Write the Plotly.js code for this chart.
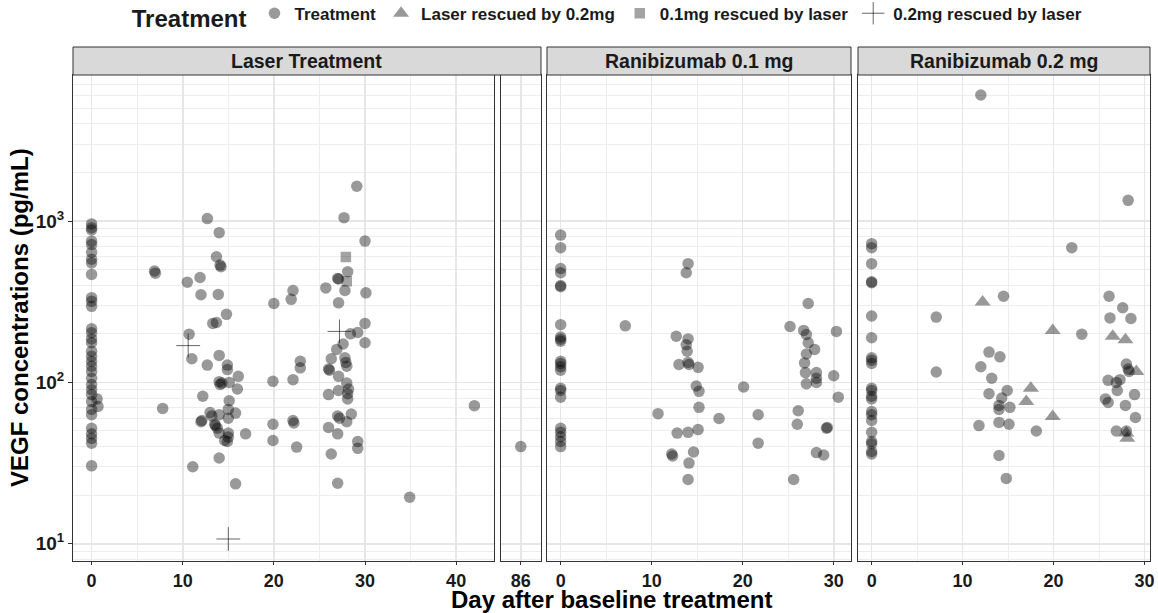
<!DOCTYPE html>
<html><head><meta charset="utf-8">
<script src="https://cdn.plot.ly/plotly-3.0.1.min.js"></script>
<style>html,body{margin:0;padding:0;background:#fff;}#chart{width:1158px;height:613px;}</style>
</head><body><div id="chart"></div>
<script>
// ---- Laser Treatment (circles) ----
const laserDay = [
 0,0,0,0,0,0,0,0,0,0,0,0,0,0,0,0,0,0,0,0,0,0,0,0,0,0,0,0,0,0,0,0,0,
 0.6,0.7, 6.9,7.0,7.8,
 10.5,10.7,11.0,11.1,11.9,12.0,12.2,12.0,12.1,12.7,12.7,13.0,13.2,13.3,13.7,13.6,13.8,13.7,13.9,
 14.0,14.1,14.2,14.0,14.0,14.3,14.1,14.0,14.0,14.0,14.8,14.9,14.9,15.1,15.1,15.0,15.0,15.0,15.0,
 14.6,14.9,15.8,16.0,16.1,16.9,15.8,13.5,
 20.0,19.9,19.9,19.9,21.9,22.1,22.1,22.1,22.2,22.5,22.9,22.9,
 25.7,26.3,26.0,26.1,26.0,26.0,26.3,26.9,27.0,27.1,27.1,27.1,27.1,27.0,27.2,27.0,27.0,
 27.7,27.8,27.6,27.8,27.9,28.0,28.0,28.2,28.1,28.1,28.0,28.1,28.4,28.5,
 29.1,29.2,29.2,29.2,30.0,30.0,30.0,30.1,34.9,42.0,
 86
];
const laserVEGF = [
 960,910,880,750,715,640,580,550,467,335,318,296,215,203,186,176,156,145,135,126,117,106,97,90,84,76,68,63,52,48,45,42,30.4,
 79,71, 490,475,69,
 418,199,140,30,447,349,82,57,58,1035,128,65,62,232,235,54,52,601,351,
 847,533,521,147,101,99,97,63,48.5,34,264,128,120,100,77,68,60,48.5,45.8,
 43.6,43,64.5,91,109,48,23.5,55,
 308,101.5,55,43.6,327,371,104,58,56,39.7,135,123,
 385,140,121,119,84,52.5,36,160,441,437,311,109,89,62,60,48,23.7,
 1049,371,173,142,133,126,99,91,85,79,57,485,200,63.6,
 1643,204,43,39,751,232,176,359,19.4,71.7,
 40
];
// Laser panel: squares (0.1mg rescued by laser) and crosses (0.2mg rescued by laser)
const squareDay = [27.9, 28.0];
const squareVEGF = [598, 424];
const crossDay = [10.6, 15.0, 27.2];
const crossVEGF = [169, 10.7, 207];

// ---- Ranibizumab 0.1 mg (circles) ----
const r01Day = [
 0,0,0,0,0,0,0,0,0,0,0,0,0,0,0,0,0,0,0,0,0,0,
 7.1,10.7,12.7,13.0,14.0,13.8,13.9,14.0,14.1,15.1,14.9,15.2,15.2,15.1,12.8,14.0,12.2,12.3,14.6,14.1,14.0,14.0,13.8,
 17.4,20.1,21.7,21.7,
 25.2,25.6,26.1,26.0,26.7,27.0,27.2,27.9,27.0,26.8,26.9,28.1,28.1,28.1,27.0,27.2,28.1,28.9,29.2,29.3,30.0,30.5,30.3
];
const r01VEGF = [
 818,684,508,478,398,392,228,191,185,180,135,131,125,119,92,89,81,52,49,46,43,40,
 224,64,193,129,186,171,156,133,129,124,95,88,70,51,48.5,49,36,35,37,31.6,25,544,478,
 59.7,93.6,63,42,
 222,25,66.7,55,210,198,176,160,150,132,115,115,106,100,98,308,36.7,35.5,52,52.5,110,81,207
];

// ---- Ranibizumab 0.2 mg (circles) ----
const r02Day = [
 0,0,0,0,0,0,0,0,0,0,0,0,0,0,0,0,0,0,0,0,0,0,
 7.1,7.1,11.8,12.0,12.0,12.9,14.1,13.2,12.9,14.3,14.0,14.0,14.9,15.2,14.0,15.1,14.0,14.8,14.5,
 18.1,22.0,23.1,
 26.1,27.6,26.2,28.5,28.2,28.0,28.2,28.3,26.0,26.9,27.3,27.0,28.9,25.7,26.0,27.9,29.0,26.9,28.0
];
const r02VEGF = [
 724,684,544,420,415,258,189,142,137,131,92,89,82,79,66,63,58,49,43,41.6,37.3,36,
 254,116,54,6040,125,154,144,106,85,80,72,68,89,70,56.5,55,35.2,25.4,342,
 50,684,199,
 342,290,251,249,1344,130,121,117,103,100,104,89,84,79,75,72,60.6,50,50
];
// Ranibizumab 0.2 mg: triangles (Laser rescued by 0.2mg)
const triDay = [12.2,17.5,17.0,19.9,19.9,26.5,27.9,29.1,28.0,28.1];
const triVEGF = [315,92,76,210,61.5,193,184,117,48.5,45];

const panelTitles = ['Laser Treatment', 'Ranibizumab 0.1 mg', 'Ranibizumab 0.2 mg'];
const yTickVals = [10, 100, 1000];
const yTickText = ['10<sup>1</sup>', '10<sup>2</sup>', '10<sup>3</sup>'];

const FONT = 'Liberation Sans, Arial, Helvetica, sans-serif';
const circ = {symbol:'circle', size:11.5, color:'#000', opacity:0.4, line:{width:0}};

const early = laserDay.map((d,i)=>[d,laserVEGF[i]]).filter(p=>p[0]<50);
const late = laserDay.map((d,i)=>[d,laserVEGF[i]]).filter(p=>p[0]>=50);

const traces = [
 {type:'scatter', mode:'markers', name:'Treatment', legendgroup:'a', x:early.map(p=>p[0]), y:early.map(p=>p[1]), xaxis:'x', yaxis:'y', marker:circ},
 {type:'scatter', mode:'markers', name:'Laser rescued by 0.2mg', legendgroup:'b', x:triDay, y:triVEGF, xaxis:'x4', yaxis:'y4',
  marker:{symbol:'triangle-up', size:14, color:'#000', opacity:0.4, line:{width:0}}},
 {type:'scatter', mode:'markers', name:'0.1mg rescued by laser', legendgroup:'c', x:squareDay, y:squareVEGF, xaxis:'x', yaxis:'y',
  marker:{symbol:'square', size:10.5, color:'#000', opacity:0.36, line:{width:0}}},
 {type:'scatter', mode:'markers', name:'0.2mg rescued by laser', legendgroup:'d', x:crossDay, y:crossVEGF, xaxis:'x', yaxis:'y',
  marker:{symbol:'cross-thin', size:17, color:'rgba(0,0,0,0.6)', line:{width:1, color:'rgba(0,0,0,0.6)'}}},
 {type:'scatter', mode:'markers', showlegend:false, x:late.map(p=>p[0]), y:late.map(p=>p[1]), xaxis:'x2', yaxis:'y2', marker:circ},
 {type:'scatter', mode:'markers', showlegend:false, x:r01Day, y:r01VEGF, xaxis:'x3', yaxis:'y3', marker:circ},
 {type:'scatter', mode:'markers', showlegend:false, x:r02Day, y:r02VEGF, xaxis:'x4', yaxis:'y4', marker:circ}
];

const minorY = [];
for (let n=0;n<4;n++) for (let k=2;k<10;k++) minorY.push(k*Math.pow(10,n));

const tickFont = {family:FONT, size:18, color:'#1a1a1a', weight:'bold'};
const GRID = '#e6e6e6', MGRID = '#ededed';
function yAx(anchor, first){
  const a = {type:'log', range:[0.893,3.905], anchor:anchor, tickmode:'array', tickvals:yTickVals, ticktext:yTickText,
    showgrid:true, gridcolor:GRID, gridwidth:1.6,
    minor:{tickmode:'array', tickvals:minorY, showgrid:true, gridcolor:MGRID, gridwidth:1, ticks:''},
    showline:true, linecolor:'#333', linewidth:1, mirror:true, zeroline:false,
    ticks: first?'outside':'', ticklen:4, tickcolor:'#333', showticklabels:first, tickfont:{family:FONT, size:19, color:'#1a1a1a', weight:'bold'}};
  if(!first) a.matches='y';
  return a;
}
function xAx(domain, range, anchor, opts){
  return Object.assign({domain:domain, range:range, anchor:anchor, tickmode:'linear', tick0:0, dtick:10,
    showgrid:true, gridcolor:GRID, gridwidth:1.6,
    minor:{tick0:0, dtick:5, showgrid:true, gridcolor:MGRID, gridwidth:1, ticks:''},
    showline:true, linecolor:'#333', linewidth:1, mirror:true, zeroline:false,
    ticks:'outside', ticklen:3, tickcolor:'#333', tickfont:tickFont}, opts||{});
}

const d1=[0,0.39044], d2=[0.39694,0.43454], d3=[0.44011,0.72238], d4=[0.72888,1];
const stripY0 = 1.0, stripY1 = 1.0576;
const stripSpans = [[d1[0], d2[1]], d3, d4];
const shapes = stripSpans.map(s=>({type:'rect', xref:'paper', yref:'paper', x0:s[0], x1:s[1], y0:stripY0, y1:stripY1,
  fillcolor:'#d9d9d9', line:{color:'#333', width:1}, layer:'above'}));
const annotations = stripSpans.map((s,i)=>({xref:'paper', yref:'paper', x:(s[0]+s[1])/2, y:(stripY0+stripY1)/2,
  text:panelTitles[i], showarrow:false, xanchor:'center', yanchor:'middle', font:{family:FONT, size:19.5, color:'#1a1a1a', weight:'bold'}}));
annotations.push({xref:'paper', yref:'paper', x:0.5, y:0, yshift:-38, text:'Day after baseline treatment', showarrow:false,
  xanchor:'center', yanchor:'middle', font:{family:FONT, size:24, color:'#000', weight:'bold'}});
annotations.push({xref:'paper', yref:'paper', x:0, xshift:-54, y:0.5, text:'VEGF concentrations (pg/mL)', showarrow:false, textangle:-90,
  xanchor:'center', yanchor:'middle', font:{family:FONT, size:24, color:'#000', weight:'bold'}});

const layout = {
  width:1158, height:613, margin:{l:73, r:8, t:75, b:52, autoexpand:false},
  paper_bgcolor:'#fff', plot_bgcolor:'#fff', font:{family:FONT},
  showlegend:true,
  legend:{orientation:'h', x:0.497, xanchor:'center', y:1.12, yanchor:'middle', bgcolor:'rgba(0,0,0,0)',
    title:{text:'Treatment', side:'left', font:{family:FONT, size:24, color:'#1a1a1a', weight:'bold'}},
    font:{family:FONT, size:17, color:'#1a1a1a', weight:'bold'}, itemwidth:30, tracegroupgap:0},
  xaxis: xAx(d1, [-2.04, 44.1], 'y'),
  xaxis2: xAx(d2, [83.78, 88.22], 'y2', {tickmode:'array', tickvals:[86], minor:{showgrid:false, ticks:''}}),
  xaxis3: xAx(d3, [-1.5, 31.9], 'y3'),
  xaxis4: xAx(d4, [-1.5, 30.6], 'y4'),
  yaxis: yAx('x', true), yaxis2: yAx('x2', false), yaxis3: yAx('x3', false), yaxis4: yAx('x4', false),
  shapes: shapes, annotations: annotations
};
Plotly.newPlot('chart', traces, layout, {displayModeBar:false, staticPlot:true});
</script></body></html>
